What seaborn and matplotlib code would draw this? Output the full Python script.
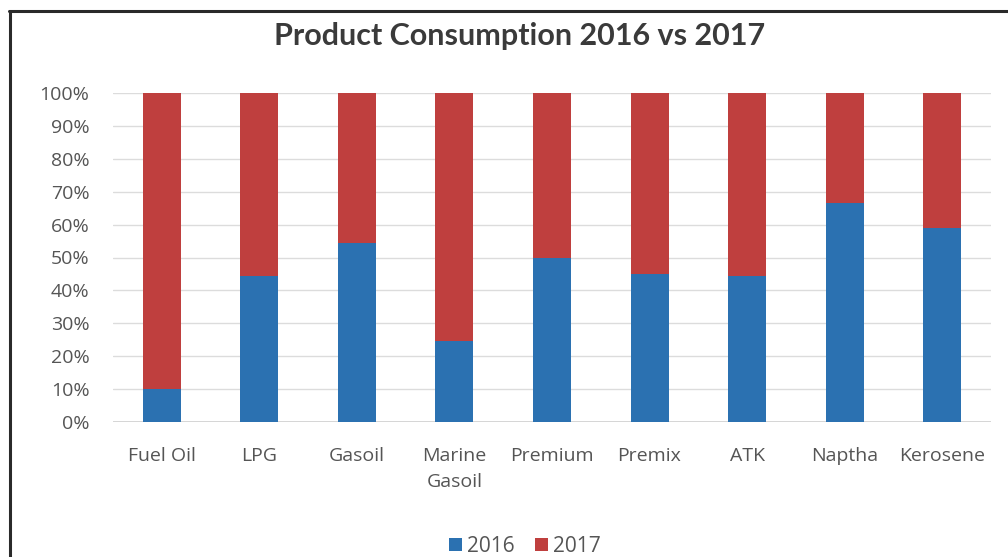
import matplotlib
matplotlib.use("Agg")
import matplotlib.pyplot as plt
from matplotlib.lines import Line2D
from matplotlib.patches import Patch
import seaborn as sns
import pandas as pd

# Product consumption split between the two years (percent of the two-year total)
products = ["Fuel Oil", "LPG", "Gasoil", "Marine\nGasoil", "Premium",
            "Premix", "ATK", "Naptha", "Kerosene"]
share_2016 = [10.0, 44.5, 54.5, 24.5, 50.0, 45.0, 44.5, 66.5, 59.0]
share_2017 = [100 - v for v in share_2016]
years = ["2016", "2017"]
y_ticks = list(range(0, 101, 10))

blue = "#2B71B1"
red = "#BF3F3E"
text_grey = "#555555"

df = pd.DataFrame({"product": products, "2016": share_2016, "2017": share_2017})
df["stack_top"] = df["2016"] + df["2017"]

sns.set_theme(style="white")
plt.rcParams["font.family"] = ["Open Sans", "DejaVu Sans"]

fig = plt.figure(figsize=(10.08, 5.57), dpi=100)
ax = fig.add_axes([113 / 1008, 1 - 422 / 557, (991 - 113) / 1008, (422 - 93) / 557])

# 2017 segment stacked on top of the 2016 segment
sns.barplot(data=df, x="product", y="stack_top", color=red, width=0.39,
            saturation=1, linewidth=0, edgecolor="none", ax=ax, zorder=2)
sns.barplot(data=df, x="product", y="2016", color=blue, width=0.39,
            saturation=1, linewidth=0, edgecolor="none", ax=ax, zorder=3)

ax.set_ylim(0, 100)
ax.set_xlim(-0.5, len(products) - 0.5)
ax.set_yticks(y_ticks)
ax.set_yticklabels([f"{t}%" for t in y_ticks])
ax.set_xlabel("")
ax.set_ylabel("")
ax.grid(axis="y", color="#DCDCDC", linewidth=1.0, zorder=0)
ax.set_axisbelow(True)
for side in ["top", "right", "left", "bottom"]:
    ax.spines[side].set_visible(False)
ax.axhline(0, color="#D0D0D0", linewidth=1.2, zorder=1)

ax.tick_params(axis="y", length=0, pad=17, labelsize=14, labelcolor=text_grey)
ax.tick_params(axis="x", length=0, pad=18, labelsize=14, labelcolor=text_grey)
for lbl in ax.get_xticklabels():
    lbl.set_linespacing(1.55)
    lbl.set_verticalalignment("top")

fig.text(520 / 1008, 1 - 36 / 557, "Product Consumption 2016 vs 2017",
         ha="center", va="center", fontsize=22, fontweight="bold",
         color="#3A3A3A", family=["Lato", "DejaVu Sans"])

handles = [Patch(facecolor=blue, edgecolor="none"),
           Patch(facecolor=red, edgecolor="none")]
fig.legend(handles, years, loc="center", bbox_to_anchor=(525 / 1008, 1 - 546 / 557),
           ncol=2, frameon=False, fontsize=15, labelcolor=text_grey,
           handlelength=0.6, handleheight=0.6, handletextpad=0.25, columnspacing=1.0)

# frame lines along the left and top edges
fig.add_artist(Line2D([9.5 / 1008, 9.5 / 1008], [0, 1 - 11 / 557],
                      transform=fig.transFigure, color="#2A2A2A", linewidth=2.2))
fig.add_artist(Line2D([8.5 / 1008, 1], [1 - 11 / 557, 1 - 11 / 557],
                      transform=fig.transFigure, color="#2A2A2A", linewidth=2.2))

fig.savefig("out.png", dpi=100, facecolor="white")
